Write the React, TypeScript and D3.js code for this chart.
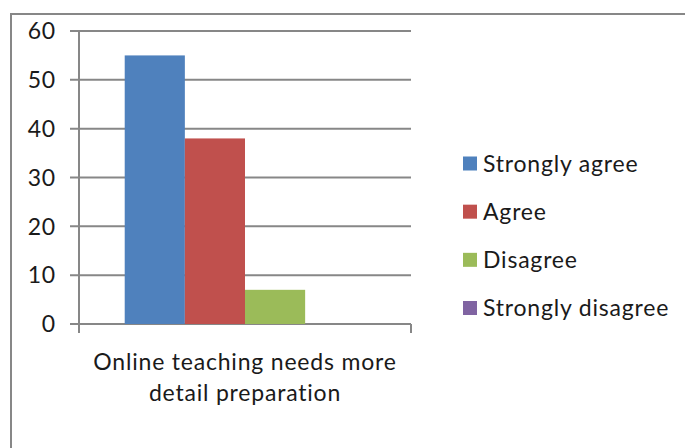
import React from "react";
import * as d3 from "d3";

const categories = ["Online teaching needs more detail preparation"];
const categoryLines = ["Online teaching needs more", "detail preparation"];
const seriesNames = ["Strongly agree", "Agree", "Disagree", "Strongly disagree"];
const seriesValues = [55, 38, 7, 0];
const seriesColors = ["#4F81BD", "#C0504D", "#9BBB59", "#8064A2"];
const yTicks = [0, 10, 20, 30, 40, 50, 60];

const W = 685;
const H = 448;
const FONT = "Lato, 'Open Sans', sans-serif";
const TEXT = "#1a1a1a";
const GRID = "#878787";
const LS = 0.8;

export default function App() {
  const plotLeft = 79;
  const plotRight = 411;
  const plotTop = 31;
  const plotBottom = 324;

  const y = d3.scaleLinear().domain([0, 60]).range([plotBottom, plotTop]);
  const x0 = d3
    .scaleBand<string>()
    .domain(categories)
    .range([plotLeft, plotRight])
    .paddingInner(0)
    .paddingOuter(0.19);
  const x1 = d3
    .scaleBand<string>()
    .domain(seriesNames)
    .range([0, x0.bandwidth()])
    .padding(0);

  const legendY = d3.scalePoint<string>().domain(seriesNames).range([163.5, 308]);

  return (
    <svg
      width={W}
      height={H}
      style={{ position: "absolute", left: 0, top: 0, background: "#fff" }}
      fontFamily={FONT}
    >
      <rect x={0} y={0} width={W} height={H} fill="#fff" />
      {/* outer chart border */}
      <rect x={11} y={14} width={W + 20} height={H + 20} fill="none" stroke={GRID} strokeWidth={2} />

      {/* gridlines + tick marks */}
      {yTicks.map((t) => (
        <line key={"g" + t} x1={70} x2={plotRight} y1={y(t)} y2={y(t)} stroke={GRID} strokeWidth={2} />
      ))}
      {/* y axis */}
      <line x1={plotLeft} x2={plotLeft} y1={plotTop} y2={plotBottom + 9} stroke={GRID} strokeWidth={2} />
      <line x1={plotRight} x2={plotRight} y1={plotBottom} y2={plotBottom + 9} stroke={GRID} strokeWidth={2} />

      {/* bars */}
      {categories.map((c) =>
        seriesNames.map((s, i) => {
          const v = seriesValues[i];
          const bx = (x0(c) ?? 0) + (x1(s) ?? 0);
          return (
            <rect
              key={c + s}
              x={bx}
              y={y(v)}
              width={x1.bandwidth()}
              height={plotBottom - y(v)}
              fill={seriesColors[i]}
            />
          );
        })
      )}

      {/* y tick labels */}
      {yTicks.map((t) => (
        <text
          key={"l" + t}
          x={56}
          y={y(t)}
          dy="0.36em"
          textAnchor="end"
          fontSize={23}
          letterSpacing={LS}
          fill={TEXT}
        >
          {t}
        </text>
      ))}

      {/* category label */}
      {categories.map((c) => (
        <text key={c} x={(x0(c) ?? 0) + x0.bandwidth() / 2} y={370} textAnchor="middle" fontSize={23} letterSpacing={LS} fill={TEXT}>
          {categoryLines.map((ln, i) => (
            <tspan key={ln} x={(x0(c) ?? 0) + x0.bandwidth() / 2} y={370 + i * 31}>
              {ln}
            </tspan>
          ))}
        </text>
      ))}

      {/* legend */}
      {seriesNames.map((s, i) => (
        <g key={"lg" + s} transform={`translate(463,${legendY(s)})`}>
          <rect x={0} y={-7} width={14} height={14} fill={seriesColors[i]} />
          <text x={20} y={0} dy="0.36em" fontSize={23} letterSpacing={LS} fill={TEXT}>
            {s}
          </text>
        </g>
      ))}
    </svg>
  );
}
